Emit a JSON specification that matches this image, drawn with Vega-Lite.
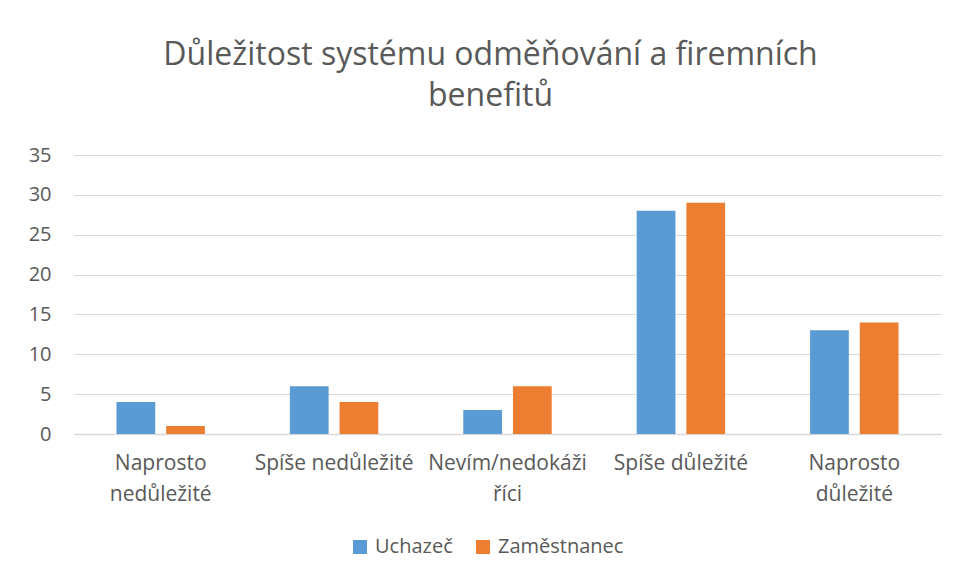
{
  "$schema": "https://vega.github.io/schema/vega-lite/v6.json",
  "width": 867,
  "height": 279,
  "autosize": {"type": "none"},
  "padding": {"left": 74, "top": 155, "right": 16, "bottom": 145},
  "background": "white",
  "title": {
    "text": ["Důležitost systému odměňování a firemních", "benefitů"],
    "font": "Open Sans",
    "fontSize": 32,
    "fontWeight": "normal",
    "color": "#595959",
    "lineHeight": 41,
    "anchor": "middle",
    "frame": "group",
    "dx": -17,
    "offset": 32
  },
  "data": {
    "values": [
      {"kategorie": "Naprosto nedůležité", "skupina": "Uchazeč", "pocet": 4},
      {"kategorie": "Naprosto nedůležité", "skupina": "Zaměstnanec", "pocet": 1},
      {"kategorie": "Spíše nedůležité", "skupina": "Uchazeč", "pocet": 6},
      {"kategorie": "Spíše nedůležité", "skupina": "Zaměstnanec", "pocet": 4},
      {"kategorie": "Nevím/nedokáži říci", "skupina": "Uchazeč", "pocet": 3},
      {"kategorie": "Nevím/nedokáži říci", "skupina": "Zaměstnanec", "pocet": 6},
      {"kategorie": "Spíše důležité", "skupina": "Uchazeč", "pocet": 28},
      {"kategorie": "Spíše důležité", "skupina": "Zaměstnanec", "pocet": 29},
      {"kategorie": "Naprosto důležité", "skupina": "Uchazeč", "pocet": 13},
      {"kategorie": "Naprosto důležité", "skupina": "Zaměstnanec", "pocet": 14}
    ]
  },
  "mark": {"type": "bar"},
  "encoding": {
    "x": {
      "field": "kategorie",
      "type": "nominal",
      "sort": ["Naprosto nedůležité", "Spíše nedůležité", "Nevím/nedokáži říci", "Spíše důležité", "Naprosto důležité"],
      "scale": {"paddingInner": 0.49, "paddingOuter": 0.245},
      "axis": {
        "title": null,
        "labelAngle": 0,
        "labelFont": "Open Sans",
        "labelFontSize": 21,
        "labelColor": "#595959",
        "labelPadding": 18,
        "labelBaseline": "top",
        "labelLineHeight": 31,
        "labelLimit": 300,
        "ticks": false,
        "domainColor": "#d9d9d9",
        "domainWidth": 1.5,
        "labelExpr": "datum.label == 'Naprosto nedůležité' ? ['Naprosto', 'nedůležité'] : datum.label == 'Nevím/nedokáži říci' ? ['Nevím/nedokáži', 'říci'] : datum.label == 'Naprosto důležité' ? ['Naprosto', 'důležité'] : datum.label"
      }
    },
    "xOffset": {
      "field": "skupina",
      "type": "nominal",
      "scale": {"paddingInner": 0.22}
    },
    "y": {
      "field": "pocet",
      "type": "quantitative",
      "scale": {"domain": [0, 35]},
      "axis": {
        "title": null,
        "values": [0, 5, 10, 15, 20, 25, 30, 35],
        "labelFont": "Open Sans",
        "labelFontSize": 20,
        "labelColor": "#595959",
        "labelPadding": 23,
        "ticks": false,
        "domain": false,
        "gridColor": "#d9d9d9",
        "gridWidth": 1
      }
    },
    "color": {
      "field": "skupina",
      "type": "nominal",
      "scale": {"domain": ["Uchazeč", "Zaměstnanec"], "range": ["#5B9BD5", "#ED7D31"]},
      "legend": {
        "title": null,
        "orient": "none",
        "direction": "horizontal",
        "legendX": 276,
        "legendY": 382,
        "symbolType": "square",
        "symbolSize": 196,
        "symbolStrokeWidth": 0,
        "labelFont": "Open Sans",
        "labelFontSize": 20,
        "labelColor": "#595959",
        "labelOffset": 5,
        "columnPadding": 20
      }
    }
  },
  "config": {"view": {"stroke": null}}
}
